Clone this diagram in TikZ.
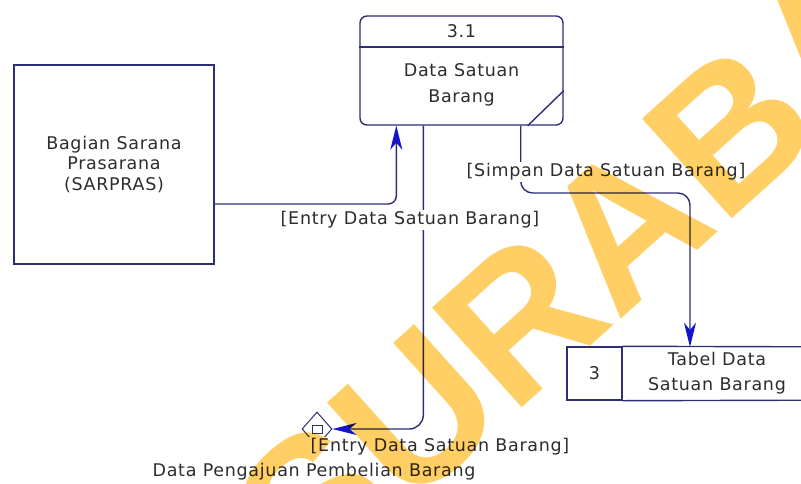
\documentclass[tikz,border=0pt]{standalone}
\usepackage{fontspec}
\setmainfont{DejaVu Sans}[LetterSpace=4]
\newfontfamily\markfont{Liberation Sans}
\usetikzlibrary{shapes.geometric,arrows.meta}
\definecolor{dfdline}{RGB}{45,45,120}
\definecolor{dfdarrow}{RGB}{20,20,205}
\definecolor{dfdtext}{RGB}{45,45,45}
\definecolor{markyellow}{RGB}{255,206,100}
\tikzset{
  dfd/.style={
    draw=dfdline,
    line width=1.4pt
  },
  txt/.style={text=dfdtext, font=\fontsize{17.5}{21}\selectfont, align=center, inner sep=2pt},
  entity/.style={dfd, txt, rectangle, minimum width=200pt, minimum height=199pt},
  procbox/.style={dfd, rectangle, rounded corners=7pt, minimum width=203pt, minimum height=109pt},
  storeid/.style={dfd, txt, rectangle, minimum width=55pt, minimum height=53pt},
  offpage/.style={dfd, diamond, line width=1pt, minimum width=30pt, minimum height=34pt, inner sep=0pt},
  flow/.style={dfd, -{Stealth[length=24pt, width=12pt, inset=7pt, color=dfdarrow]}},
  flowlabel/.style={txt, fill=white}
}

\begin{document}
\begin{tikzpicture}[x=1pt, y=-1pt]
  \useasboundingbox (0,0) rectangle (801,483);
  \clip (0,0) rectangle (801,483);
  % External entity
  \node[entity] (sarpras) at (114,164.5) {Bagian Sarana\\Prasarana\\(SARPRAS)};
  % Process 3.1
  \node[procbox] (proc) at (461.5,70.5) {};
  \draw[dfd] (proc.west |- 0,47) -- (proc.east |- 0,47);
  \draw[dfd] ([xshift=-36pt]proc.south east) -- ([yshift=35pt]proc.south east);
  \node[txt] (pid) at (461.5,31) {3.1};
  \node[txt, font=\fontsize{17.5}{26}\selectfont] (pname) at (461.5,85) {Data Satuan\\Barang};
  % Data store 3
  \node[storeid] (sid) at (594.5,373.5) {3};
  \node[txt, font=\fontsize{17.5}{25}\selectfont, minimum width=190pt, minimum height=53pt] (sname) at (717,373.5) {Tabel Data\\Satuan Barang};
  \draw[dfd] (sid.north east) -- (sname.north east);
  \draw[dfd] (sid.south east) -- (sname.south east);
  % Off-page process
  \node[offpage] (ext) at (317,429) {};
  \node[dfd, line width=1pt, minimum width=10pt, minimum height=8pt, inner sep=0pt] (extbox) at (ext) {};
  \node[txt] (extname) at (314,472) {Data Pengajuan Pembelian Barang};
  % Flows
  \coordinate (bend) at (690,193);
  \draw[flow, rounded corners=8pt] (sarpras.east |- 0,204) -| ([xshift=37pt]proc.south west);
  \draw[flow, rounded corners=14pt] ([xshift=64pt]proc.south west) |- (ext.east);
  \draw[flow, rounded corners=12pt] ([xshift=-43pt]proc.south east) |- (bend) -- (sname.north -| bend);
  % Flow labels on top
  \node[flowlabel] (lblentry) at (410,220) {[Entry Data Satuan Barang]};
  \node[flowlabel] (lblsimpan) at (606,172) {[Simpan Data Satuan Barang]};
  \node[flowlabel] (lblout) at (440,447) {[Entry Data Satuan Barang]};
  % Watermark
  \begin{scope}[blend mode=multiply]
    \node[rotate=42, text=markyellow, font=\markfont\bfseries\fontsize{195}{195}\selectfont] (mark) at (664,190) {SURABAYA};
  \end{scope}
\end{tikzpicture}
\end{document}
